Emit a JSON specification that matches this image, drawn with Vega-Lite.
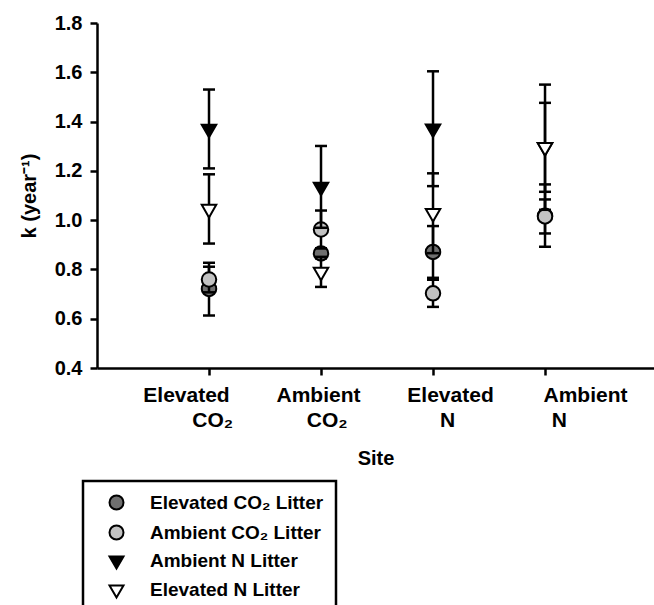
{
  "$schema": "https://vega.github.io/schema/vega-lite/v6.json",
  "width": 557,
  "height": 345,
  "autosize": {"type": "none"},
  "padding": {"left": 97, "top": 23, "right": 0, "bottom": 237},
  "background": "white",
  "config": {
    "view": {"stroke": null},
    "font": "Liberation Sans",
    "axis": {
      "grid": false,
      "domainColor": "black",
      "domainWidth": 2.5,
      "tickColor": "black",
      "tickWidth": 2.5,
      "tickSize": 7,
      "labelColor": "black",
      "labelFont": "Liberation Sans",
      "labelFontWeight": "bold",
      "titleColor": "black",
      "titleFont": "Liberation Sans",
      "titleFontWeight": "bold"
    },
    "legend": {
      "strokeColor": "black",
      "strokeWidth": 2.5,
      "padding": 12,
      "labelFont": "Liberation Sans",
      "labelFontSize": 19,
      "labelFontWeight": "bold",
      "labelColor": "black",
      "labelLimit": 400,
      "symbolOffset": 12,
      "labelOffset": 24,
      "rowPadding": 7,
      "symbolStrokeWidth": 2,
      "symbolSize": 196
    }
  },
  "data": {
    "values": [
      {"pos": 1, "site": "Elevated CO₂", "series": "Elevated CO₂ Litter", "k": 0.721, "lo": 0.613, "hi": 0.827},
      {"pos": 1, "site": "Elevated CO₂", "series": "Ambient CO₂ Litter", "k": 0.759, "lo": 0.707, "hi": 0.811},
      {"pos": 1, "site": "Elevated CO₂", "series": "Ambient N Litter", "k": 1.370, "lo": 1.210, "hi": 1.530},
      {"pos": 1, "site": "Elevated CO₂", "series": "Elevated N Litter", "k": 1.045, "lo": 0.905, "hi": 1.186},
      {"pos": 2, "site": "Ambient CO₂", "series": "Elevated CO₂ Litter", "k": 0.865, "lo": 0.845, "hi": 0.885},
      {"pos": 2, "site": "Ambient CO₂", "series": "Ambient CO₂ Litter", "k": 0.962, "lo": 0.885, "hi": 1.039},
      {"pos": 2, "site": "Ambient CO₂", "series": "Ambient N Litter", "k": 1.135, "lo": 0.969, "hi": 1.301},
      {"pos": 2, "site": "Ambient CO₂", "series": "Elevated N Litter", "k": 0.790, "lo": 0.729, "hi": 0.851},
      {"pos": 3, "site": "Elevated N", "series": "Elevated CO₂ Litter", "k": 0.871, "lo": 0.766, "hi": 0.976},
      {"pos": 3, "site": "Elevated N", "series": "Ambient CO₂ Litter", "k": 0.703, "lo": 0.648, "hi": 0.758},
      {"pos": 3, "site": "Elevated N", "series": "Ambient N Litter", "k": 1.371, "lo": 1.138, "hi": 1.604},
      {"pos": 3, "site": "Elevated N", "series": "Elevated N Litter", "k": 1.028, "lo": 0.866, "hi": 1.190},
      {"pos": 4, "site": "Ambient N", "series": "Elevated CO₂ Litter", "k": 1.018, "lo": 0.892, "hi": 1.145},
      {"pos": 4, "site": "Ambient N", "series": "Ambient CO₂ Litter", "k": 1.015, "lo": 0.946, "hi": 1.084},
      {"pos": 4, "site": "Ambient N", "series": "Ambient N Litter", "k": 1.296, "lo": 1.042, "hi": 1.550},
      {"pos": 4, "site": "Ambient N", "series": "Elevated N Litter", "k": 1.296, "lo": 1.115, "hi": 1.476}
    ]
  },
  "encoding": {
    "x": {
      "field": "pos",
      "type": "quantitative",
      "title": "Site",
      "scale": {"domain": [0, 4.973], "nice": false, "zero": false},
      "axis": {
        "values": [1, 2, 3, 4],
        "labelFontSize": 21,
        "labelLineHeight": 25,
        "labelPadding": 9,
        "labelFlush": false,
        "labelOverlap": false,
        "labelOffset": {"expr": "datum.value == 1 ? -23 : datum.value == 2 ? -3 : datum.value == 3 ? 17 : 40"},
        "labelExpr": "datum.value == 1 ? ['Elevated', '\u200b\u00a0\u00a0\u00a0\u00a0\u00a0\u00a0\u00a0\u00a0\u00a0CO₂'] : datum.value == 2 ? ['Ambient', '\u200b\u00a0\u00a0\u00a0CO₂'] : datum.value == 3 ? ['Elevated', 'N\u00a0\u200b'] : ['Ambient', 'N\u00a0\u00a0\u00a0\u00a0\u00a0\u00a0\u00a0\u00a0\u00a0\u200b']",
        "titleFontSize": 20,
        "titlePadding": 18
      }
    }
  },
  "layer": [
    {
      "data": {"values": [{}]},
      "mark": {"type": "rule", "color": "black", "strokeWidth": 2.5},
      "encoding": {
        "x": {"datum": 0, "type": "quantitative"},
        "x2": {"datum": 4.973},
        "y": {"datum": 1.8, "type": "quantitative"}
      }
    },
    {
      "transform": [{"filter": "datum.series === 'Elevated CO₂ Litter'"}],
      "layer": [
        {"mark": {"type": "rule", "color": "black", "strokeWidth": 2.5},
         "encoding": {"y": {"field": "lo", "type": "quantitative", "title": "k (year⁻¹)", "scale": {"domain": [0.4, 1.8], "nice": false, "zero": false}, "axis": {"values": [0.4, 0.6, 0.8, 1.0, 1.2, 1.4, 1.6, 1.8], "format": ".1f", "labelFontSize": 20, "labelPadding": 8, "titleFontSize": 20, "titlePadding": 15}}, "y2": {"field": "hi"}}},
        {"mark": {"type": "tick", "orient": "horizontal", "color": "black", "size": 12, "thickness": 2.5, "opacity": 1},
         "encoding": {"y": {"field": "hi", "type": "quantitative", "title": "k (year⁻¹)"}}},
        {"mark": {"type": "tick", "orient": "horizontal", "color": "black", "size": 12, "thickness": 2.5, "opacity": 1},
         "encoding": {"y": {"field": "lo", "type": "quantitative", "title": "k (year⁻¹)"}}},
        {"mark": {"type": "point", "filled": true, "strokeWidth": 2, "size": 210, "opacity": 1},
         "encoding": {
           "y": {"field": "k", "type": "quantitative", "title": "k (year⁻¹)"},
           "fill": {"field": "series", "type": "nominal", "title": null, "scale": {"domain": ["Elevated CO₂ Litter", "Ambient CO₂ Litter", "Ambient N Litter", "Elevated N Litter"], "range": ["#6f6f6f", "#c2c2c2", "black", "white"]}, "legend": {"orient": "none", "legendX": -14, "legendY": 458, "title": null}},
           "stroke": {"field": "series", "type": "nominal", "title": null, "scale": {"domain": ["Elevated CO₂ Litter", "Ambient CO₂ Litter", "Ambient N Litter", "Elevated N Litter"], "range": ["black", "black", "black", "black"]}, "legend": {"orient": "none", "legendX": -14, "legendY": 458, "title": null}},
           "shape": {"field": "series", "type": "nominal", "title": null, "scale": {"domain": ["Elevated CO₂ Litter", "Ambient CO₂ Litter", "Ambient N Litter", "Elevated N Litter"], "range": ["circle", "circle", "M-1,-0.577L1,-0.577L0,1.155Z", "M-1,-0.577L1,-0.577L0,1.155Z"]}, "legend": {"orient": "none", "legendX": -14, "legendY": 458, "title": null}}
         }}
      ]
    },
    {
      "transform": [{"filter": "datum.series === 'Ambient CO₂ Litter'"}],
      "layer": [
        {"mark": {"type": "rule", "color": "black", "strokeWidth": 2.5},
         "encoding": {"y": {"field": "lo", "type": "quantitative", "title": "k (year⁻¹)"}, "y2": {"field": "hi"}}},
        {"mark": {"type": "tick", "orient": "horizontal", "color": "black", "size": 12, "thickness": 2.5, "opacity": 1},
         "encoding": {"y": {"field": "hi", "type": "quantitative", "title": "k (year⁻¹)"}}},
        {"mark": {"type": "tick", "orient": "horizontal", "color": "black", "size": 12, "thickness": 2.5, "opacity": 1},
         "encoding": {"y": {"field": "lo", "type": "quantitative", "title": "k (year⁻¹)"}}},
        {"mark": {"type": "point", "filled": true, "strokeWidth": 2, "size": 210, "opacity": 1},
         "encoding": {
           "y": {"field": "k", "type": "quantitative", "title": "k (year⁻¹)"},
           "fill": {"field": "series", "type": "nominal", "title": null},
           "stroke": {"field": "series", "type": "nominal", "title": null},
           "shape": {"field": "series", "type": "nominal", "title": null}
         }}
      ]
    },
    {
      "transform": [{"filter": "datum.series === 'Ambient N Litter'"}],
      "layer": [
        {"mark": {"type": "rule", "color": "black", "strokeWidth": 2.5},
         "encoding": {"y": {"field": "lo", "type": "quantitative", "title": "k (year⁻¹)"}, "y2": {"field": "hi"}}},
        {"mark": {"type": "tick", "orient": "horizontal", "color": "black", "size": 12, "thickness": 2.5, "opacity": 1},
         "encoding": {"y": {"field": "hi", "type": "quantitative", "title": "k (year⁻¹)"}}},
        {"mark": {"type": "tick", "orient": "horizontal", "color": "black", "size": 12, "thickness": 2.5, "opacity": 1},
         "encoding": {"y": {"field": "lo", "type": "quantitative", "title": "k (year⁻¹)"}}},
        {"mark": {"type": "point", "filled": true, "strokeWidth": 2, "size": 210, "opacity": 1},
         "encoding": {
           "y": {"field": "k", "type": "quantitative", "title": "k (year⁻¹)"},
           "fill": {"field": "series", "type": "nominal", "title": null},
           "stroke": {"field": "series", "type": "nominal", "title": null},
           "shape": {"field": "series", "type": "nominal", "title": null}
         }}
      ]
    },
    {
      "transform": [{"filter": "datum.series === 'Elevated N Litter'"}],
      "layer": [
        {"mark": {"type": "rule", "color": "black", "strokeWidth": 2.5},
         "encoding": {"y": {"field": "lo", "type": "quantitative", "title": "k (year⁻¹)"}, "y2": {"field": "hi"}}},
        {"mark": {"type": "tick", "orient": "horizontal", "color": "black", "size": 12, "thickness": 2.5, "opacity": 1},
         "encoding": {"y": {"field": "hi", "type": "quantitative", "title": "k (year⁻¹)"}}},
        {"mark": {"type": "tick", "orient": "horizontal", "color": "black", "size": 12, "thickness": 2.5, "opacity": 1},
         "encoding": {"y": {"field": "lo", "type": "quantitative", "title": "k (year⁻¹)"}}},
        {"mark": {"type": "point", "filled": true, "strokeWidth": 2, "size": 210, "opacity": 1},
         "encoding": {
           "y": {"field": "k", "type": "quantitative", "title": "k (year⁻¹)"},
           "fill": {"field": "series", "type": "nominal", "title": null},
           "stroke": {"field": "series", "type": "nominal", "title": null},
           "shape": {"field": "series", "type": "nominal", "title": null}
         }}
      ]
    }
  ]
}
